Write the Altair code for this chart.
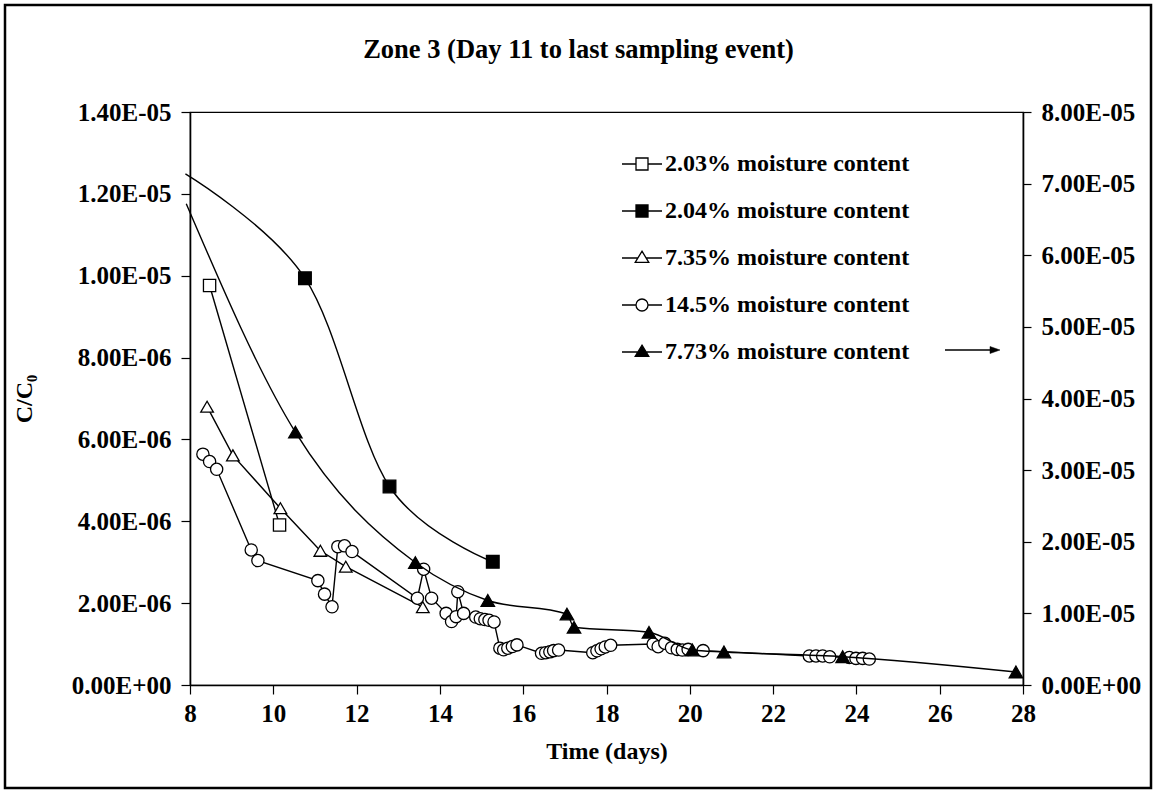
import altair as alt
import pandas as pd

SERIES = [
    "2.03% moisture content",
    "2.04% moisture content",
    "7.35% moisture content",
    "14.5% moisture content",
    "7.73% moisture content",
]

# ---- 2.03% moisture content (left axis)
DAY_203 = [8.47, 10.15]
C_203 = [9.76e-6, 3.91e-6]

# ---- 2.04% moisture content (left axis); smoothed line enters from left of day 8
DAY_204_LINE_START = [7.89]
C_204_LINE_START = [1.249e-5]
DAY_204 = [10.76, 12.79, 15.27]
C_204 = [9.94e-6, 4.85e-6, 3.01e-6]

# ---- 7.35% moisture content (left axis)
DAY_735 = [8.41, 9.03, 10.17, 11.13, 11.74, 13.59]
C_735 = [6.80e-6, 5.61e-6, 4.32e-6, 3.28e-6, 2.89e-6, 1.90e-6]

# ---- 14.5% moisture content (left axis)
DAY_145 = [8.31, 8.47, 8.64, 9.47, 9.63, 11.07, 11.23, 11.41, 11.55, 11.71, 11.89,
           13.46, 13.61, 13.80, 14.15, 14.28, 14.39, 14.43, 14.57,
           14.86, 14.97, 15.08, 15.18, 15.30,
           15.44, 15.53, 15.63, 15.74, 15.85,
           16.44, 16.54, 16.64, 16.73, 16.85,
           17.67, 17.77, 17.87, 17.97, 18.10,
           19.12, 19.24, 19.40, 19.56, 19.70, 19.82, 19.96, 20.32,
           22.87, 23.03, 23.19, 23.36, 23.83, 23.99, 24.15, 24.31]
C_145 = [5.64e-6, 5.46e-6, 5.27e-6, 3.30e-6, 3.04e-6, 2.55e-6, 2.22e-6, 1.91e-6, 3.38e-6, 3.40e-6, 3.26e-6,
         2.12e-6, 2.83e-6, 2.12e-6, 1.75e-6, 1.55e-6, 1.67e-6, 2.28e-6, 1.75e-6,
         1.66e-6, 1.62e-6, 1.60e-6, 1.58e-6, 1.54e-6,
         0.90e-6, 0.86e-6, 0.90e-6, 0.94e-6, 0.98e-6,
         0.775e-6, 0.79e-6, 0.81e-6, 0.84e-6, 0.855e-6,
         0.79e-6, 0.835e-6, 0.885e-6, 0.93e-6, 0.97e-6,
         1.00e-6, 0.935e-6, 1.02e-6, 0.91e-6, 0.87e-6, 0.855e-6, 0.87e-6, 0.84e-6,
         0.71e-6, 0.71e-6, 0.71e-6, 0.69e-6, 0.67e-6, 0.65e-6, 0.65e-6, 0.635e-6]

# ---- 7.73% moisture content (right axis); smoothed line enters from left of day 8
DAY_773_LINE_START = [7.91]
C_773_LINE_START = [6.72e-5]
DAY_773 = [10.53, 13.41, 15.15, 17.05, 17.22, 19.02, 20.06, 20.82, 23.67, 27.83]
C_773 = [3.53e-5, 1.71e-5, 1.18e-5, 9.91e-6, 8.06e-6, 7.36e-6, 4.89e-6, 4.61e-6, 3.95e-6, 1.82e-6]

X_TICKS = [8, 10, 12, 14, 16, 18, 20, 22, 24, 26, 28]
LEFT_TICKS = [0, 2e-6, 4e-6, 6e-6, 8e-6, 1e-5, 1.2e-5, 1.4e-5]
LEFT_LABELS = ["0.00E+00", "2.00E-06", "4.00E-06", "6.00E-06", "8.00E-06",
               "1.00E-05", "1.20E-05", "1.40E-05"]
RIGHT_TICKS = [0, 1e-5, 2e-5, 3e-5, 4e-5, 5e-5, 6e-5, 7e-5, 8e-5]
RIGHT_LABELS = ["0.00E+00", "1.00E-05", "2.00E-05", "3.00E-05", "4.00E-05",
                "5.00E-05", "6.00E-05", "7.00E-05", "8.00E-05"]

FONT = "Liberation Serif"


def table(name, days, vals):
    return pd.DataFrame({"series": name, "day": days, "c": vals})


pts_203 = table(SERIES[0], DAY_203, C_203)
pts_204 = table(SERIES[1], DAY_204, C_204)
pts_735 = table(SERIES[2], DAY_735, C_735)
pts_145 = table(SERIES[3], DAY_145, C_145)
pts_773 = table(SERIES[4], DAY_773, C_773)
line_204 = pd.concat([table(SERIES[1], DAY_204_LINE_START, C_204_LINE_START), pts_204])
line_773 = pd.concat([table(SERIES[4], DAY_773_LINE_START, C_773_LINE_START), pts_773])
all_pts = pd.concat([pts_203, pts_204, pts_735, pts_145, pts_773])

x_enc = alt.X(
    "day:Q",
    scale=alt.Scale(domain=[8, 28], nice=False, zero=False),
    axis=alt.Axis(values=X_TICKS, title="Time (days)", labelFlush=False,
                  labelOverlap=False, titlePadding=13, labelPadding=7),
)
left_expr = "[" + ",".join("'%s'" % s for s in LEFT_LABELS) + "][round(datum.value/2e-6)]"
right_expr = "[" + ",".join("'%s'" % s for s in RIGHT_LABELS) + "][round(datum.value/1e-5)]"

yl_enc = alt.Y(
    "c:Q",
    scale=alt.Scale(domain=[0, 1.4e-5], nice=False),
    axis=alt.Axis(values=LEFT_TICKS, labelExpr=left_expr, title="C/C\u2080",
                  orient="left", labelPadding=10, titlePadding=35, labelOverlap=False),
)
yr_enc = alt.Y(
    "c:Q",
    scale=alt.Scale(domain=[0, 8e-5], nice=False),
    axis=alt.Axis(values=RIGHT_TICKS, labelExpr=right_expr, title=None,
                  orient="right", labelPadding=10, labelOverlap=False, tickSize=8),
)


def line_layer(df, y_enc, interp):
    return alt.Chart(df).mark_line(color="black", strokeWidth=1.4, interpolate=interp).encode(
        x=x_enc, y=y_enc, order="day:Q")


def point_layer(df, y_enc, shape, fill, size):
    return alt.Chart(df).mark_point(shape=shape, filled=True, fill=fill, stroke="black",
                                    strokeWidth=1.3, size=size, opacity=1).encode(x=x_enc, y=y_enc)


# legend symbols: marker with short line stubs on each side
PATHS = [
    "M-1,0H-0.3M0.3,0H1M-0.3,-0.3H0.3V0.3H-0.3Z",
    "M-1,0H-0.3M0.3,0H1M-0.3,-0.3H0.3V0.3H-0.3Z",
    "M-1,0H-0.2M0.2,0H1M0,-0.34L0.34,0.22H-0.34Z",
    "M-1,0H-0.3M0.3,0H1M0.3,0A0.3,0.3,0,1,1,-0.3,0A0.3,0.3,0,1,1,0.3,0Z",
    "M-1,0H-0.2M0.2,0H1M0,-0.34L0.34,0.22H-0.34Z",
]
FILLS = ["white", "black", "white", "white", "black"]
STROKES = ["black"] * 5

LEG = alt.Legend(title=None, orient="none", legendX=431, legendY=31, symbolSize=1600,
                 symbolStrokeColor="black", symbolStrokeWidth=1.3, symbolOpacity=1,
                 labelFont=FONT, labelFontSize=24, labelFontWeight="bold",
                 labelColor="black", labelOffset=2, rowPadding=14, padding=0, labelLimit=500)

carrier = alt.Chart(all_pts).mark_point(filled=True, opacity=1, strokeWidth=1.3).encode(
    shape=alt.Shape("series:N", scale=alt.Scale(domain=SERIES, range=PATHS), legend=LEG),
    fill=alt.Fill("series:N", scale=alt.Scale(domain=SERIES, range=FILLS), legend=LEG),
    stroke=alt.Stroke("series:N", scale=alt.Scale(domain=SERIES, range=STROKES), legend=LEG),
).transform_filter("false")

one = pd.DataFrame({"k": [0]})
frame = alt.Chart(one).mark_rect(fill="transparent", stroke="black", strokeWidth=2.5).encode(
    x=alt.value(-185), x2=alt.value(961), y=alt.value(-107), y2=alt.value(676))
arrow_line = alt.Chart(one).mark_rule(color="black", strokeWidth=1.3).encode(
    x=alt.value(755), x2=alt.value(803), y=alt.value(238))
arrow_head = alt.Chart(one).mark_point(shape="M-1,-0.7L1,0L-1,0.7Z", filled=True, fill="black",
                                       stroke="black", strokeWidth=0.5, size=100, opacity=1).encode(
    x=alt.value(805), y=alt.value(238))

left = alt.layer(
    line_layer(pts_203, yl_enc, "linear"),
    line_layer(line_204, yl_enc, "cardinal"),
    line_layer(pts_735, yl_enc, "linear"),
    line_layer(pts_145, yl_enc, "linear"),
    point_layer(pts_203, yl_enc, "square", "white", 150),
    point_layer(pts_204, yl_enc, "square", "black", 160),
    point_layer(pts_735, yl_enc, "triangle-up", "white", 160),
    point_layer(pts_145, yl_enc, "circle", "white", 150),
    carrier, frame, arrow_line, arrow_head,
)
right = alt.layer(
    line_layer(line_773, yr_enc, "monotone"),
    point_layer(pts_773, yr_enc, "triangle-up", "black", 180),
)

chart = alt.layer(left, right).resolve_scale(y="independent").properties(
    width=833, height=573,
    padding={"left": 190, "top": 112, "right": 133, "bottom": 108},
    autosize=alt.AutoSizeParams(type="none"),
    background="white",
    title=alt.TitleParams("Zone 3 (Day 11 to last sampling event)", font=FONT, fontSize=26.5,
                          fontWeight="bold", color="black", anchor="middle", frame="group",
                          baseline="alphabetic", offset=-81, dx=-28),
).configure_view(stroke="black", strokeWidth=1.2).configure_axis(
    domainColor="black", domainWidth=1.6, tickColor="black", tickWidth=1.2, tickSize=9,
    labelFont=FONT, labelFontSize=25, labelFontWeight="bold", labelColor="black",
    titleFont=FONT, titleFontSize=24, titleFontWeight="bold", titleColor="black", grid=False,
)

chart.save("out.html", embed_options={"renderer": "svg", "actions": False})
